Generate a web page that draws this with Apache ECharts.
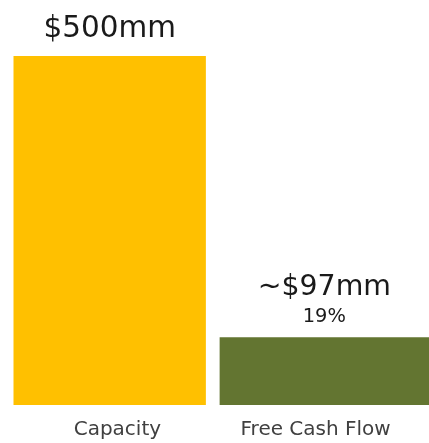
<!DOCTYPE html>
<html>
<head>
<meta charset="utf-8">
<script src="https://cdn.jsdelivr.net/npm/echarts@6/dist/echarts.min.js"></script>
<style>
  html, body { margin: 0; padding: 0; background: #fff; }
  #chart { width: 429px; height: 443px; }
</style>
</head>
<body>
<div id="chart"></div>
<script>
// Capacity vs. free cash flow ($mm)
const categories = ['Capacity', 'Free Cash Flow'];
const values = [500, 97];
const valueLabels = ['$500mm', '~$97mm'];
const shareLabels = ['', '19%'];
const colors = ['#FFC000', '#637531'];
const barWidths = [194, 211];

const FONT = 'DejaVu Sans';

const series = categories.map((name, i) => ({
  name: name,
  type: 'bar',
  barWidth: barWidths[i],
  barGap: '-100%',
  data: categories.map((c, j) => (j === i ? values[i] : null)),
  itemStyle: { color: colors[i] },
  label: {
    show: true,
    position: 'top',
    distance: i === 0 ? 9 : 8,
    formatter: () => shareLabels[i]
      ? '{v|' + valueLabels[i] + '}\n{s|' + shareLabels[i] + '}'
      : '{v|' + valueLabels[i] + '}',
    rich: {
      v: { fontFamily: FONT, fontSize: i === 0 ? 29.5 : 28.4, color: '#1a1a1a', lineHeight: 36 },
      s: { fontFamily: FONT, fontSize: 19.4, color: '#1a1a1a', lineHeight: 24 }
    }
  }
}));

const chart = echarts.init(document.getElementById('chart'), null, { renderer: 'canvas' });
chart.setOption({
  animation: false,
  backgroundColor: '#ffffff',
  grid: { left: 13.5, right: -0.5, top: 56, bottom: 38, containLabel: false },
  xAxis: {
    type: 'category',
    data: categories,
    axisLine: { show: false },
    axisTick: { show: false },
    axisLabel: {
      margin: 15,
      formatter: (v, i) => (i === 1 ? '{f|' + v + '}' : '{c|' + v + '}'),
      rich: {
        c: { fontFamily: FONT, fontSize: 20, color: '#404040' },
        f: { fontFamily: FONT, fontSize: 20, color: '#404040', padding: [0, 19, 0, 0] }
      }
    }
  },
  yAxis: {
    type: 'value',
    min: 0,
    max: 500,
    show: false,
    splitLine: { show: false }
  },
  series: series
});
</script>
</body>
</html>
